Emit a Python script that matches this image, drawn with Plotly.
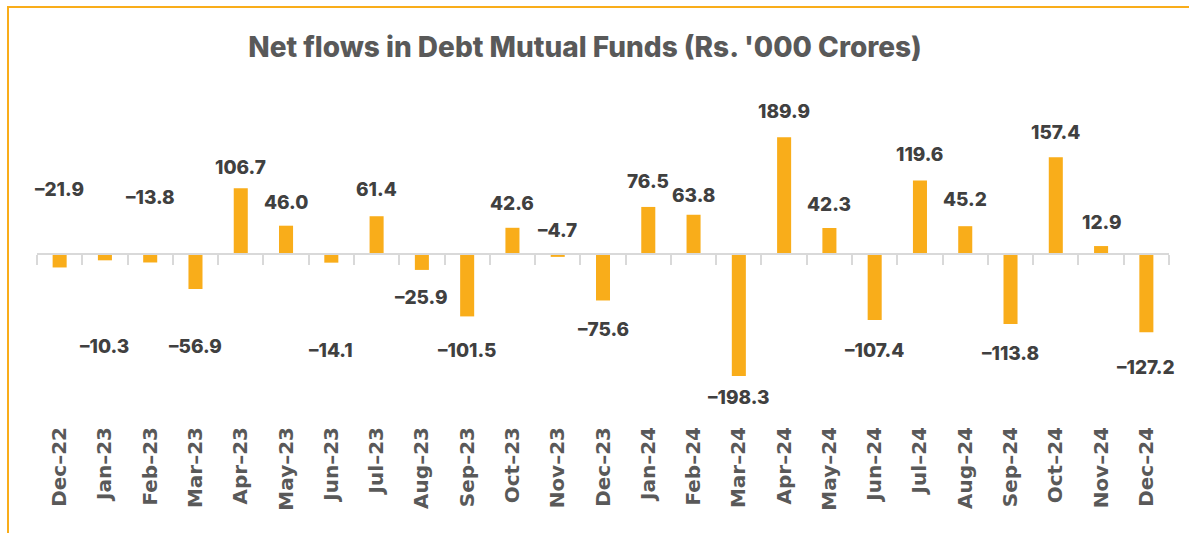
import plotly.graph_objects as go

months = ["Dec–22", "Jan–23", "Feb–23", "Mar–23", "Apr–23", "May–23", "Jun–23", "Jul–23",
          "Aug–23", "Sep–23", "Oct–23", "Nov–23", "Dec–23", "Jan–24", "Feb–24", "Mar–24",
          "Apr–24", "May–24", "Jun–24", "Jul–24", "Aug–24", "Sep–24", "Oct–24", "Nov–24", "Dec–24"]
net_flows = [-21.9, -10.3, -13.8, -56.9, 106.7, 46.0, -14.1, 61.4,
             -25.9, -101.5, 42.6, -4.7, -75.6, 76.5, 63.8, -198.3,
             189.9, 42.3, -107.4, 119.6, 45.2, -113.8, 157.4, 12.9, -127.2]
# label anchor heights (data units) as placed in the reference
label_y = [105, -151, 92, -151, 141, 84, -157, 105,
           -70, -157, 82, 39, -123, 118, 95, -233,
           231, 80, -157, 162, 89, -162, 198, 52, -184]

BAR = "#F9AD1A"
Y_MIN, Y_MAX = -273.2, 250.4
zero_pos = (0 - Y_MIN) / (Y_MAX - Y_MIN)

fig = go.Figure()
fig.add_trace(go.Bar(x=months, y=net_flows, marker=dict(color=BAR, line=dict(width=0)),
                     hoverinfo="x+y"))
fig.add_trace(go.Scatter(x=months, y=[0] * len(months), xaxis="x2", mode="markers",
                         marker=dict(opacity=0), hoverinfo="skip", showlegend=False))

for m, v, ly in zip(months, net_flows, label_y):
    fig.add_annotation(x=m, y=ly, xref="x", yref="y", text=f"{v:.1f}".replace("-", "–"),
                       showarrow=False,
                       font=dict(family="Inter, Lato, sans-serif", size=19, color="#404040",
                                 weight=800))

fig.add_shape(type="rect", xref="paper", yref="paper",
              x0=(8 - 37) / 1132, x1=1.3, y0=-1.0, y1=(422 - 7) / 322,
              line=dict(color=BAR, width=2), fillcolor="rgba(0,0,0,0)", layer="above")

fig.update_layout(
    width=1189, height=533,
    margin=dict(l=37, r=20, t=100, b=111, autoexpand=False),
    paper_bgcolor="white", plot_bgcolor="white",
    showlegend=False, bargap=0.69,
    title=dict(text="Net flows in Debt Mutual Funds (Rs. '000 Crores)",
               x=585 / 1189, xanchor="center", y=1 - 47 / 533, yanchor="middle",
               font=dict(family="Inter, Lato, sans-serif", size=28, color="#595959",
                         weight=800)),
    xaxis=dict(type="category", categoryorder="array", categoryarray=months,
               range=[-0.5, len(months) - 0.5], tickangle=-90, ticks="",
               showline=False, showgrid=False, zeroline=False,
               tickfont=dict(family="DejaVu Sans, sans-serif", size=20,
                             color="#595959", weight="bold")),
    xaxis2=dict(type="category", categoryorder="array", categoryarray=months,
                overlaying="x", anchor="free", position=zero_pos,
                range=[-0.5, len(months) - 0.5], matches="x",
                showticklabels=False, ticks="outside", tickson="boundaries",
                ticklen=10, tickwidth=2, tickcolor="#D9D9D9",
                showline=True, linecolor="#D9D9D9", linewidth=2,
                showgrid=False, zeroline=False),
    yaxis=dict(range=[Y_MIN, Y_MAX], visible=False, showgrid=False, zeroline=False),
)

fig.write_html("out.html", config={"displayModeBar": False},
               post_script="document.body.style.margin='0';")
